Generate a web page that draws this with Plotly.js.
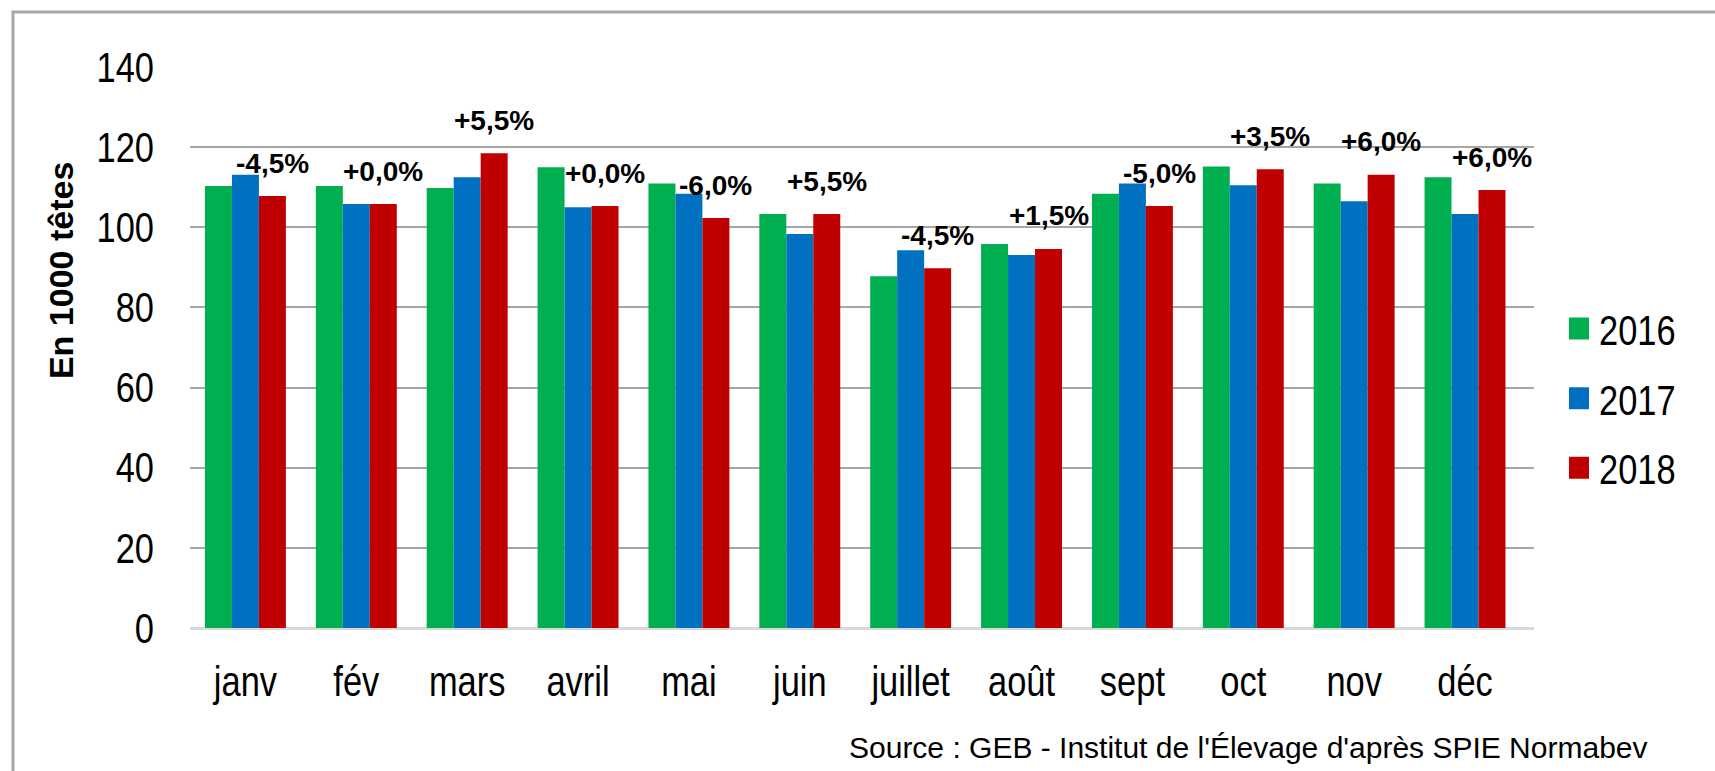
<!DOCTYPE html>
<html>
<head>
<meta charset="utf-8">
<script src="https://cdn.plot.ly/plotly-3.0.1.min.js"></script>
<style>
  html, body { margin: 0; padding: 0; background: #ffffff; }
  #chart { width: 1715px; height: 771px; }
</style>
</head>
<body>
<div id="chart"></div>
<script>
// ---- Data ----
const months = ["janv", "fév", "mars", "avril", "mai", "juin", "juillet", "août", "sept", "oct", "nov", "déc"];
const seriesNames = ["2016", "2017", "2018"];
const values2016 = [110.3, 110.3, 109.8, 115.0, 110.9, 103.3, 87.8, 95.8, 108.4, 115.2, 110.9, 112.5];
const values2017 = [113.1, 105.8, 112.5, 105.0, 108.4, 98.3, 94.3, 93.1, 110.9, 110.5, 106.5, 103.3];
const values2018 = [107.8, 105.8, 118.5, 105.3, 102.3, 103.3, 89.8, 94.6, 105.3, 114.5, 113.1, 109.3];
const changeLabels = ["-4,5%", "+0,0%", "+5,5%", "+0,0%", "-6,0%", "+5,5%", "-4,5%", "+1,5%", "-5,0%", "+3,5%", "+6,0%", "+6,0%"];
const yTicks = [0, 20, 40, 60, 80, 100, 120, 140];
const yTitle = "En 1000 têtes";
const sourceText = "Source : GEB - Institut de l'Élevage d'après SPIE Normabev";

// ---- Styles ----
const colors = ["#00B050", "#0070C0", "#C00000"];
const sans = "'Liberation Sans', Arial, sans-serif";
const NARROW = 0.82;   // Arial Narrow is ~82% of Arial's width
const BARGAP = 0.27;

const allValues = [values2016, values2017, values2018];
const traces = allValues.map((vals, i) => ({
  type: "bar",
  name: seriesNames[i],
  x: months,
  y: vals,
  marker: { color: colors[i], line: { width: 0 } },
  legendgroup: "g" + i,
  hoverinfo: "x+y+name"
}));

// labels centred above the 2018 bars (third bar of each group)
const barW = (1 - BARGAP) / 3;
const annotations = changeLabels.map((t, i) => ({
  x: i + barW,
  y: values2018[i],
  xref: "x",
  yref: "y",
  text: "<b>" + t + "</b>",
  showarrow: false,
  xanchor: "center",
  yanchor: "middle",
  yshift: 33,
  font: { family: sans, size: 28, color: "#000000" }
}));

annotations.push({
  text: "<b>" + yTitle + "</b>",
  xref: "paper", yref: "paper",
  x: -0.0960, y: 0.638,
  xanchor: "center", yanchor: "middle",
  textangle: -90,
  showarrow: false,
  font: { family: sans, size: 34, color: "#000000" }
});

annotations.push({
  text: sourceText,
  xref: "paper", yref: "paper",
  x: 1.0863, y: -0.2139,
  xanchor: "right", yanchor: "middle",
  showarrow: false,
  font: { family: sans, size: 30, color: "#000000" }
});

const layout = {
  width: 1715,
  height: 771,
  margin: { l: 190, r: 181, t: 67, b: 143 },
  paper_bgcolor: "#ffffff",
  plot_bgcolor: "#ffffff",
  barmode: "group",
  bargap: BARGAP,
  bargroupgap: 0,
  showlegend: true,
  legend: {
    x: 1.0186, xanchor: "left",
    y: 0.594, yanchor: "top",
    font: { family: sans, size: 42, color: "#000000" },
    tracegroupgap: 12,
    bgcolor: "rgba(0,0,0,0)"
  },
  xaxis: {
    type: "category",
    tickfont: { family: sans, size: 42, color: "#000000" },
    showgrid: false,
    showline: false,
    zeroline: false,
    ticks: "",
    ticklabelstandoff: 25
  },
  yaxis: {
    range: [0, 140],
    tickvals: yTicks,
    ticktext: yTicks.map(String),
    tickfont: { family: sans, size: 42, color: "#000000" },
    showgrid: true,
    gridcolor: "#A6A6A6",
    gridwidth: 2,
    zeroline: true,
    zerolinecolor: "#D9D9D9",
    zerolinewidth: 3,
    showline: false,
    ticks: "",
    ticklabelstandoff: 35
  },
  annotations: annotations,
  shapes: [{
    type: "rect",
    xref: "paper", yref: "paper",
    x0: -0.1317, x1: 1.2,
    y0: -0.4, y1: 1.098,
    line: { color: "#A6A6A6", width: 3 },
    fillcolor: "rgba(0,0,0,0)",
    layer: "below"
  }]
};

// Condense the narrow-font texts (ticks, legend) horizontally,
// as no narrow face is installed.
function condense(el) {
  const w = el.getComputedTextLength();
  if (w > 0) {
    el.setAttribute("textLength", (w * NARROW).toFixed(1));
    el.setAttribute("lengthAdjust", "spacingAndGlyphs");
  }
}

Plotly.newPlot("chart", traces, layout, { staticPlot: true, displayModeBar: false }).then(gd => {
  gd.querySelectorAll(".xtick text, .ytick text, .legendtext").forEach(condense);
  gd.querySelectorAll(".legendpoints path").forEach(p => {
    p.setAttribute("d", "M10,11H-10V-11H10Z");
  });
});
</script>
</body>
</html>
